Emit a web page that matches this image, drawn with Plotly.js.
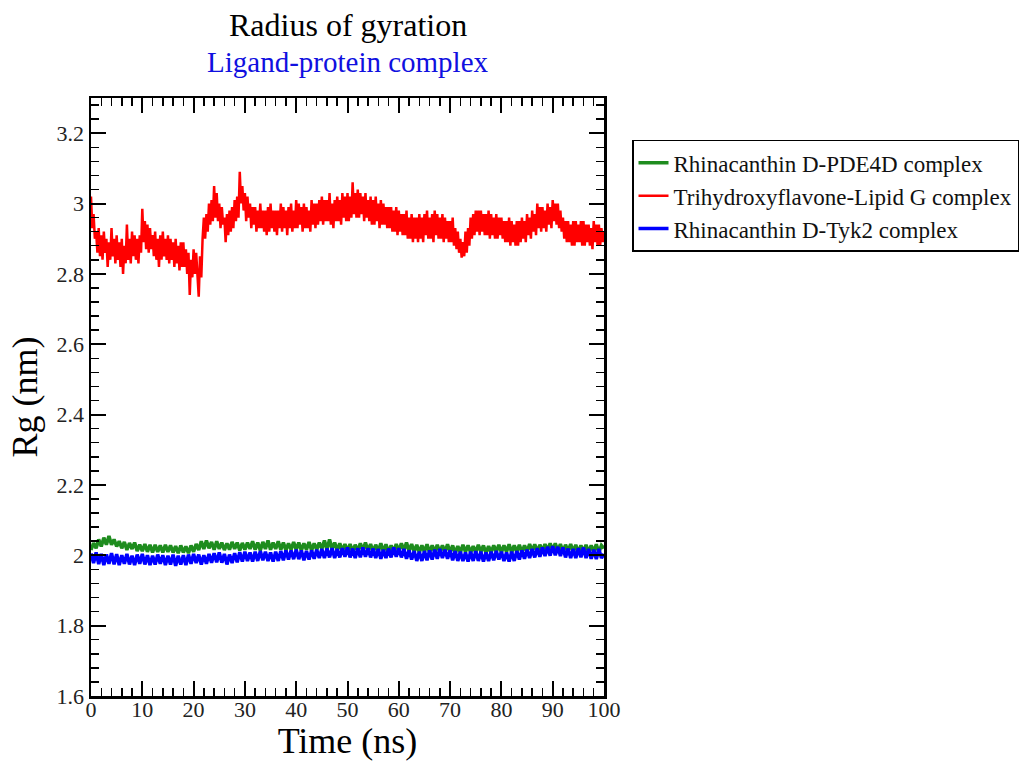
<!DOCTYPE html>
<html>
<head>
<meta charset="utf-8">
<script src="https://cdn.plot.ly/plotly-3.0.1.min.js"></script>
<style>html,body{margin:0;padding:0;background:#fff;}#chart{width:1033px;height:761px;}</style>
</head>
<body>
<div id="chart"></div>
<script>
// Sampling intervals of the trajectories (ns)
const stepRedNs = 0.25;
const stepGreenBlueNs = 0.5;

const seriesNames = [
  "Rhinacanthin D-PDE4D complex",
  "Trihydroxyflavone-Lipid G complex",
  "Rhinacanthin D-Tyk2 complex"
];

// Rg (nm) every 0.5 ns
const rgPDE4D = [
  2.015, 2.035, 2.02, 2.045, 2.025, 2.05, 2.03, 2.055, 2.03, 2.045,
  2.025, 2.04, 2.02, 2.038, 2.015, 2.035, 2.018, 2.036, 2.012, 2.03,
  2.012, 2.032, 2.01, 2.03, 2.008, 2.03, 2.01, 2.028, 2.008, 2.03,
  2.01, 2.028, 2.008, 2.026, 2.006, 2.028, 2.008, 2.025, 2.006, 2.028,
  2.01, 2.032, 2.015, 2.04, 2.018, 2.042, 2.02, 2.038, 2.016, 2.04,
  2.018, 2.036, 2.015, 2.034, 2.016, 2.038, 2.018, 2.036, 2.014, 2.035,
  2.016, 2.036, 2.018, 2.04, 2.016, 2.036, 2.014, 2.038, 2.018, 2.042,
  2.016, 2.036, 2.018, 2.04, 2.016, 2.036, 2.014, 2.034, 2.016, 2.038,
  2.016, 2.036, 2.014, 2.034, 2.016, 2.038, 2.014, 2.034, 2.016, 2.036,
  2.018, 2.042, 2.016, 2.045, 2.018, 2.036, 2.014, 2.034, 2.012, 2.032,
  2.012, 2.032, 2.01, 2.03, 2.012, 2.034, 2.014, 2.036, 2.012, 2.032,
  2.01, 2.03, 2.012, 2.034, 2.01, 2.031, 2.008, 2.028, 2.01, 2.032,
  2.012, 2.034, 2.014, 2.036, 2.012, 2.032, 2.01, 2.03, 2.008, 2.028,
  2.01, 2.031, 2.008, 2.028, 2.01, 2.03, 2.008, 2.028, 2.01, 2.031,
  2.008, 2.028, 2.006, 2.026, 2.008, 2.03, 2.01, 2.028, 2.008, 2.026,
  2.008, 2.03, 2.01, 2.028, 2.006, 2.026, 2.008, 2.028, 2.01, 2.03,
  2.008, 2.028, 2.01, 2.031, 2.008, 2.028, 2.01, 2.03, 2.008, 2.028,
  2.01, 2.032, 2.012, 2.031, 2.01, 2.03, 2.012, 2.032, 2.014, 2.034,
  2.014, 2.034, 2.012, 2.032, 2.01, 2.03, 2.012, 2.032, 2.01, 2.03,
  2.008, 2.028, 2.01, 2.03, 2.008, 2.028, 2.01, 2.031, 2.008, 2.028,
  2.02
];

// Rg (nm) every 0.25 ns
const rgLipidG = [
  3.02, 2.93, 2.97, 2.90,   2.92, 2.86, 2.93, 2.85,   2.91, 2.84, 2.92, 2.86,   2.90, 2.82, 2.89, 2.84,   2.93, 2.85, 2.90, 2.83,
  2.91, 2.84, 2.89, 2.82,   2.90, 2.80, 2.88, 2.83,   2.94, 2.84, 2.90, 2.83,   2.92, 2.85, 2.91, 2.84,   2.90, 2.83, 2.91, 2.86,
  2.985, 2.89, 2.95, 2.87,  2.94, 2.86, 2.93, 2.87,   2.91, 2.85, 2.92, 2.84,   2.90, 2.82, 2.91, 2.84,   2.92, 2.85, 2.90, 2.84,
  2.91, 2.83, 2.90, 2.84,   2.89, 2.82, 2.90, 2.83,   2.88, 2.81, 2.89, 2.82,   2.89, 2.82, 2.87, 2.80,   2.86, 2.74, 2.84, 2.79,
  2.87, 2.80, 2.86, 2.81,   2.735, 2.85, 2.79, 2.90,  2.96, 2.90, 2.97, 2.92,   3.00, 2.94, 3.01, 2.95,   3.05, 2.96, 3.03, 2.95,
  3.00, 2.93, 2.99, 2.94,   2.96, 2.89, 2.97, 2.91,   2.98, 2.92, 2.99, 2.93,   3.01, 2.95, 3.02, 2.96,   3.09, 3.00, 3.05, 2.98,
  3.03, 2.95, 3.02, 2.96,   3.00, 2.93, 2.99, 2.94,   2.99, 2.92, 2.98, 2.93,   3.00, 2.93, 2.98, 2.92,   2.98, 2.91, 2.99, 2.92,
  3.00, 2.93, 2.98, 2.92,   2.98, 2.91, 2.98, 2.93,   3.00, 2.92, 2.99, 2.93,   2.98, 2.91, 2.99, 2.93,   3.00, 2.92, 2.98, 2.93,
  3.01, 2.93, 3.00, 2.94,   2.99, 2.92, 3.00, 2.93,   2.99, 2.93, 2.98, 2.92,   3.01, 2.94, 3.00, 2.93,   3.00, 2.94, 3.01, 2.95,
  3.02, 2.94, 3.01, 2.95,   3.01, 2.95, 3.03, 2.94,   3.00, 2.93, 3.01, 2.95,   3.02, 2.95, 3.01, 2.94,   3.03, 2.96, 3.02, 2.95,
  3.03, 2.95, 3.02, 2.96,   3.06, 2.97, 3.03, 2.96,   3.04, 2.96, 3.03, 2.97,   3.02, 2.95, 3.03, 2.96,   3.01, 2.95, 3.02, 2.94,
  3.01, 2.94, 3.02, 2.95,   3.00, 2.93, 3.01, 2.94,   3.00, 2.94, 2.99, 2.93,   2.99, 2.93, 2.99, 2.92,   2.98, 2.92, 2.99, 2.91,
  2.98, 2.92, 2.97, 2.91,   2.97, 2.91, 2.98, 2.90,   2.96, 2.90, 2.97, 2.89,   2.96, 2.90, 2.96, 2.89,   2.97, 2.90, 2.96, 2.89,
  2.97, 2.91, 2.98, 2.90,   2.96, 2.90, 2.97, 2.89,   2.98, 2.91, 2.97, 2.90,   2.96, 2.90, 2.97, 2.89,   2.96, 2.90, 2.95, 2.89,
  2.95, 2.89, 2.96, 2.88,   2.93, 2.87, 2.92, 2.86,   2.90, 2.846, 2.89, 2.85,  2.92, 2.86, 2.93, 2.88,   2.96, 2.90, 2.97, 2.91,
  2.98, 2.92, 2.98, 2.91,   2.98, 2.92, 2.97, 2.91,   2.97, 2.91, 2.98, 2.90,   2.97, 2.91, 2.96, 2.90,   2.97, 2.90, 2.96, 2.91,
  2.96, 2.90, 2.95, 2.89,   2.95, 2.89, 2.96, 2.88,   2.95, 2.89, 2.94, 2.88,   2.95, 2.88, 2.95, 2.89,   2.96, 2.90, 2.95, 2.89,
  2.97, 2.91, 2.96, 2.90,   2.98, 2.92, 2.97, 2.91,   3.00, 2.93, 2.99, 2.92,   2.99, 2.93, 2.98, 2.92,   3.00, 2.94, 2.99, 2.93,
  3.01, 2.95, 3.00, 2.94,   3.00, 2.93, 2.98, 2.92,   2.96, 2.90, 2.95, 2.89,   2.95, 2.89, 2.94, 2.88,   2.95, 2.88, 2.95, 2.89,
  2.94, 2.89, 2.95, 2.88,   2.95, 2.88, 2.94, 2.89,   2.94, 2.88, 2.93, 2.87,   2.95, 2.89, 2.94, 2.88,   2.94, 2.88, 2.93, 2.89,
  2.92
];

// Rg (nm) every 0.5 ns
const rgTyk2 = [
  2.005, 1.978, 2.008, 1.975, 2.004, 1.972, 2.002, 1.976, 2.006, 1.974,
  2.003, 1.972, 2.0, 1.976, 2.004, 1.974, 1.999, 1.972, 2.002, 1.976,
  2.004, 1.974, 2.0, 1.972, 1.999, 1.974, 2.002, 1.976, 2.0, 1.972,
  1.999, 1.974, 2.002, 1.97, 1.999, 1.974, 2.0, 1.972, 2.002, 1.976,
  2.004, 1.978, 2.002, 1.974, 2.0, 1.976, 2.004, 1.979, 2.006, 1.98,
  2.008, 1.979, 2.004, 1.974, 2.002, 1.978, 2.006, 1.98, 2.009, 1.982,
  2.01, 1.984, 2.008, 1.982, 2.01, 1.984, 2.012, 1.986, 2.01, 1.984,
  2.008, 1.982, 2.01, 1.984, 2.012, 1.986, 2.014, 1.988, 2.014, 1.989,
  2.016, 1.989, 2.014, 1.986, 2.012, 1.988, 2.014, 1.99, 2.016, 1.992,
  2.018, 1.992, 2.019, 1.994, 2.02, 1.992, 2.018, 1.994, 2.02, 1.996,
  2.022, 1.994, 2.019, 1.992, 2.02, 1.994, 2.022, 1.996, 2.02, 1.994,
  2.019, 1.992, 2.018, 1.99, 2.016, 1.992, 2.019, 1.994, 2.022, 1.996,
  2.02, 1.994, 2.018, 1.99, 2.014, 1.988, 2.012, 1.984, 2.01, 1.984,
  2.012, 1.986, 2.014, 1.988, 2.016, 1.99, 2.018, 1.992, 2.016, 1.99,
  2.014, 1.986, 2.012, 1.984, 2.01, 1.984, 2.008, 1.982, 2.01, 1.984,
  2.012, 1.984, 2.01, 1.982, 2.008, 1.984, 2.01, 1.986, 2.012, 1.988,
  2.01, 1.984, 2.008, 1.982, 2.01, 1.984, 2.012, 1.988, 2.014, 1.99,
  2.016, 1.992, 2.018, 1.994, 2.02, 1.996, 2.022, 1.998, 2.024, 1.999,
  2.026, 2.0, 2.024, 1.998, 2.022, 1.994, 2.019, 1.992, 2.018, 1.992,
  2.02, 1.994, 2.022, 1.992, 2.018, 1.99, 2.016, 1.989, 2.018, 1.992,
  2.004
];

const xTickVals = [0, 10, 20, 30, 40, 50, 60, 70, 80, 90, 100];
const yTickVals = [1.6, 1.8, 2.0, 2.2, 2.4, 2.6, 2.8, 3.0, 3.2];

const timeOf = (arr, step) => arr.map((_, i) => i * step);

const colors = ["#1e8c1e", "#ff0000", "#0000ff"];
const widths = [3.5, 2.5, 3.5];
const steps = [stepGreenBlueNs, stepRedNs, stepGreenBlueNs];
const seriesData = [rgPDE4D, rgLipidG, rgTyk2];

const traces = seriesData.map((ys, k) => ({
  type: "scatter",
  mode: "lines",
  x: timeOf(ys, steps[k]),
  y: ys,
  name: seriesNames[k],
  line: {color: colors[k], width: widths[k]}
}));

const serif = "Liberation Serif, Times New Roman, serif";

const axisCommon = {
  showgrid: false,
  zeroline: false,
  showline: true,
  linecolor: "#000",
  linewidth: 2.5,
  mirror: "allticks",
  ticks: "inside",
  ticklen: 15,
  tickwidth: 2,
  tickcolor: "#000",
  automargin: false,
  tickfont: {family: serif, size: 22, color: "#222"}
};

const layout = {
  width: 1033,
  height: 761,
  paper_bgcolor: "#fff",
  plot_bgcolor: "#fff",
  margin: {l: 91, r: 429, t: 98, b: 65, autoexpand: false},
  showlegend: true,
  legend: {
    x: 1.0546, y: 0.930, xanchor: "left", yanchor: "top",
    bordercolor: "#000", borderwidth: 1.5, bgcolor: "#fff",
    font: {family: serif, size: 23, color: "#111"},
    itemwidth: 30,
    tracegroupgap: 0
  },
  xaxis: Object.assign({}, axisCommon, {
    range: [0, 100],
    tickvals: xTickVals,
    ticktext: xTickVals.map(String),
    ticklabelstandoff: -8,
    minor: {dtick: 2, tick0: 0, ticks: "inside", ticklen: 8, tickwidth: 1.5, tickcolor: "#000"},
    title: {text: "Time (ns)", font: {family: serif, size: 36, color: "#000"}, standoff: 0}
  }),
  yaxis: Object.assign({}, axisCommon, {
    range: [1.6, 3.3],
    tickvals: yTickVals,
    ticktext: yTickVals.map(v => String(Math.round(v * 10) / 10)),
    minor: {dtick: 0.04, tick0: 1.6, ticks: "inside", ticklen: 8, tickwidth: 1.5, tickcolor: "#000"},
    title: {text: "Rg (nm)", font: {family: serif, size: 36, color: "#000"}, standoff: 8}
  }),
  annotations: [
    {text: "Radius of gyration", xref: "paper", yref: "paper", x: 0.5, y: 1, yshift: 73,
     xanchor: "center", yanchor: "middle", showarrow: false,
     font: {family: serif, size: 32, color: "#000"}},
    {text: "Ligand-protein complex", xref: "paper", yref: "paper", x: 0.5, y: 1, yshift: 36,
     xanchor: "center", yanchor: "middle", showarrow: false,
     font: {family: serif, size: 29, color: "#1010e0"}}
  ]
};

Plotly.newPlot("chart", traces, layout, {displayModeBar: false, staticPlot: true});
</script>
</body>
</html>
